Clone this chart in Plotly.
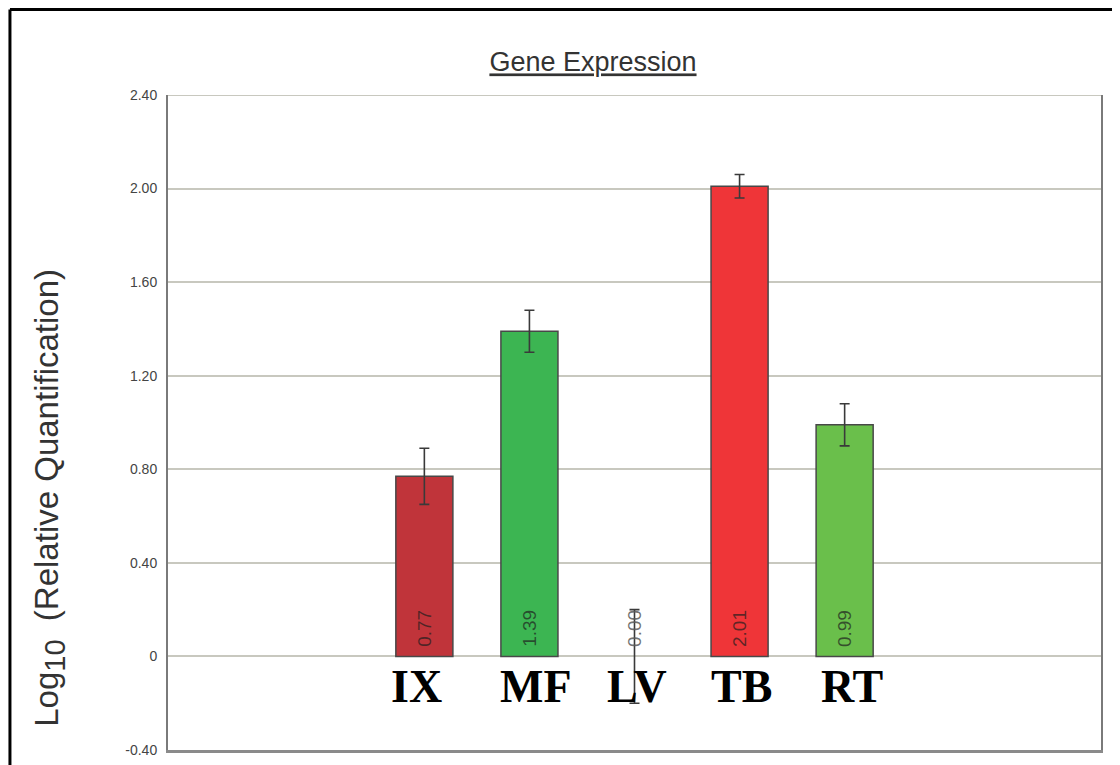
import plotly.graph_objects as go

categories = ["IX", "MF", "LV", "TB", "RT"]
values = [0.77, 1.39, 0.00, 2.01, 0.99]
errors = [0.12, 0.09, 0.20, 0.05, 0.09]
bar_colors = ["#c0343a", "#3cb552", "#999999", "#ef3538", "#6abf4b"]
label_text = ["0.77", "1.39", "0.00", "2.01", "0.99"]
tick_vals = [-0.4, 0, 0.4, 0.8, 1.2, 1.6, 2.0, 2.4]
tick_text = ["-0.40", "0", "0.40", "0.80", "1.20", "1.60", "2.00", "2.40"]
label_xshift = [-8, 7, 2, 2, 7]

xs = list(range(len(categories)))
outline_w = [1.5 if v != 0 else 0 for v in values]

W, H = 1112, 757  # page body adds an 8px offset

fig = go.Figure()
fig.add_trace(go.Bar(
    x=xs, y=values, width=0.543,
    marker=dict(color=bar_colors, line=dict(color="#484848", width=outline_w)),
    error_y=dict(type="data", array=errors, visible=True, color="#3a3a3a",
                 thickness=1.6, width=5),
    hoverinfo="skip", showlegend=False,
))

annotations = []
for i, (x, t) in enumerate(zip(xs, label_text)):
    annotations.append(dict(
        x=x, y=0, xref="x", yref="y", text=t, showarrow=False,
        textangle=-90, xanchor="center", yanchor="middle", yshift=28,
        font=dict(family="Arial, Liberation Sans", size=19,
                  color="rgba(30,30,30,0.7)" if values[i] != 0 else "rgba(90,90,90,0.85)"),
    ))
for x, c, dx in zip(xs, categories, label_xshift):
    annotations.append(dict(
        x=x, y=0, xref="x", yref="y", text="<b>%s</b>" % c, showarrow=False,
        xanchor="center", yanchor="middle", yshift=-30, xshift=dx,
        font=dict(family="Liberation Serif, Times New Roman", size=46, color="black"),
    ))
annotations.append(dict(
    x=-0.1265, y=0.385, xref="paper", yref="paper",
    text="Log<sub><span style='font-size:29px'>10</span></sub>  (Relative Quantification)",
    showarrow=False,
    textangle=-90, xanchor="center", yanchor="middle",
    font=dict(family="Arial, Liberation Sans", size=33, color="#333333"),
))

shapes = [
    dict(type="line", xref="paper", yref="y", x0=0, x1=1, y0=2.4, y1=2.4,
         line=dict(color="#c8c8bf", width=2), layer="below"),
    dict(type="line", xref="paper", yref="paper", x0=-0.1694, x1=1.03,
         y0=1.1305, y1=1.1305, line=dict(color="black", width=3)),
    dict(type="line", xref="paper", yref="paper", x0=-0.1694, x1=-0.1694,
         y0=1.1305, y1=-0.05, line=dict(color="black", width=3)),
]

fig.update_layout(
    width=W, height=H, autosize=False,
    margin=dict(l=160, r=19, t=87, b=15, autoexpand=False),
    paper_bgcolor="white", plot_bgcolor="white",
    title=dict(text="<u>Gene Expression</u>", x=0.4555, xref="paper",
               y=1 - 54 / H, yref="container", xanchor="center", yanchor="middle",
               font=dict(family="Arial, Liberation Sans", size=27, color="#333333")),
    xaxis=dict(range=[-2.44, 6.44], showticklabels=False, showgrid=False,
               zeroline=False, showline=True, linecolor="#8a8a8a", linewidth=3,
               ticks="", automargin=False),
    yaxis=dict(range=[-0.4, 2.4], tickvals=tick_vals, ticktext=tick_text,
               showgrid=True, gridcolor="#c8c8bf", gridwidth=2,
               zeroline=True, zerolinecolor="#c8c8bf", zerolinewidth=2,
               showline=True, linecolor="#7a7a7a", linewidth=2, mirror=True,
               ticks="", ticklabelstandoff=6, automargin=False,
               tickfont=dict(family="Arial, Liberation Sans", size=14, color="#444444")),
    annotations=annotations,
    shapes=shapes,
    bargap=0.4,
)

fig.write_html("out.html")
